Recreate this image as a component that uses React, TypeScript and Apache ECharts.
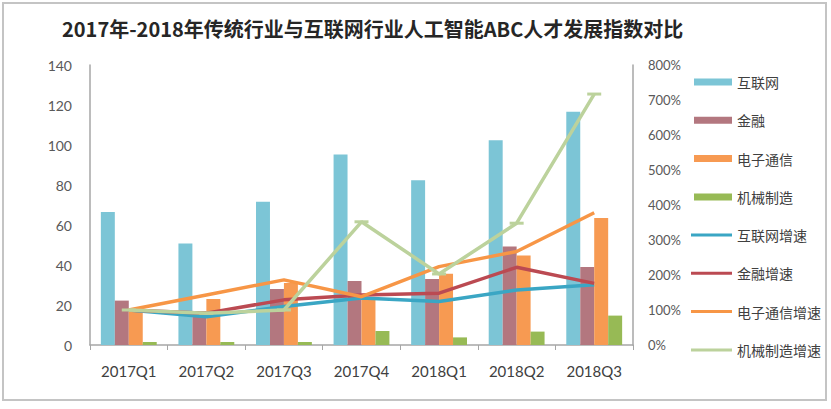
import React, { useEffect, useRef } from "react";
import * as echarts from "echarts";

const categories = ["2017Q1", "2017Q2", "2017Q3", "2017Q4", "2018Q1", "2018Q2", "2018Q3"];
const internet = [66.5, 50.7, 71.6, 95.2, 82.4, 102.4, 116.6];
const finance = [22.2, 17, 28, 32, 33, 49.3, 39];
const telecom = [18.5, 23, 31, 24, 35.6, 44.8, 63.5];
const machinery = [1.5, 1.5, 1.5, 7, 3.8, 6.7, 14.7];
const internetGrowth = [100, 81, 110, 134, 124, 157, 172];
const financeGrowth = [100, 91, 129, 143, 148, 222, 176];
const telecomGrowth = [100, 143, 186, 138, 224, 267, 378];
const machineryGrowth = [100, 91, 100, 352, 203, 348, 717];

const barNames = ["互联网", "金融", "电子通信", "机械制造"];
const lineNames = ["互联网增速", "金融增速", "电子通信增速", "机械制造增速"];
const barColors = ["#7cc5d6", "#b3777f", "#f79a52", "#97ba55"];
const lineColors = ["#3aa6c4", "#bb4a52", "#f79646", "#bcd29c"];

const title = "2017年-2018年传统行业与互联网行业人工智能ABC人才发展指数对比";

export default function App() {
  const ref = useRef<HTMLDivElement>(null);
  useEffect(() => {
    if (!ref.current) return;
    const chart = echarts.init(ref.current, undefined, { renderer: "svg" });
    const barData = [internet, finance, telecom, machinery];
    const lineData = [internetGrowth, financeGrowth, telecomGrowth, machineryGrowth];
    const axisColor = "#a6a6a6";
    const labelColor = "#595959";
    const legendText = {
      fontFamily: "'Noto Sans CJK SC', sans-serif",
      fontSize: 14,
      color: "#404040",
      lineHeight: 16,
    };
    chart.setOption({
      animation: false,
      backgroundColor: "#ffffff",
      textStyle: { fontFamily: "Lato, 'Noto Sans CJK SC', sans-serif" },
      title: {
        text: title,
        left: 57,
        top: 13,
        padding: 5,
        textStyle: {
          fontFamily: "'Noto Sans CJK SC', sans-serif",
          fontWeight: "bold",
          fontSize: 20,
          color: "#262626",
        },
      },
      graphic: [
        {
          type: "rect",
          shape: { x: 3, y: 3, width: 823, height: 397 },
          style: { fill: "none", stroke: "#c4c4c4", lineWidth: 2 },
          silent: true,
        },
      ],
      legend: [
        {
          data: barNames,
          orient: "vertical",
          left: 694,
          top: 74,
          padding: 0,
          itemWidth: 38,
          itemHeight: 7,
          itemGap: 22.3,
          icon: "rect",
          textStyle: legendText,
        },
        {
          data: lineNames,
          orient: "vertical",
          left: 691,
          top: 227,
          padding: 0,
          itemWidth: 41,
          itemHeight: 3,
          itemGap: 22.3,
          icon: "rect",
          textStyle: legendText,
        },
      ],
      grid: { left: 90, right: 198, top: 65, bottom: 64, containLabel: false },
      xAxis: {
        type: "category",
        data: categories,
        axisLine: { lineStyle: { color: axisColor, width: 1.5 } },
        axisTick: { show: true, length: 5, lineStyle: { color: axisColor } },
        axisLabel: { fontSize: 15, color: "#404040", margin: 18, fontFamily: "Lato, sans-serif" },
      },
      yAxis: [
        {
          type: "value",
          min: 0,
          max: 140,
          interval: 20,
          axisLine: { show: true, lineStyle: { color: axisColor, width: 1.5 } },
          axisTick: { show: false },
          splitLine: { show: false },
          axisLabel: { fontSize: 14, color: labelColor, margin: 18, fontFamily: "Lato, sans-serif" },
        },
        {
          type: "value",
          min: 0,
          max: 800,
          interval: 100,
          axisLine: { show: true, lineStyle: { color: axisColor, width: 1.5 } },
          axisTick: { show: false },
          splitLine: { show: false },
          axisLabel: {
            fontSize: 13,
            color: labelColor,
            margin: 15,
            formatter: "{value}%",
            fontFamily: "Lato, sans-serif",
          },
        },
      ],
      series: [
        ...barNames.map((name, i) => ({
          name,
          type: "bar",
          yAxisIndex: 0,
          data: barData[i],
          barGap: "0%",
          barCategoryGap: "28%",
          itemStyle: { color: barColors[i] },
        })),
        ...lineNames.map((name, i) => ({
          name,
          type: "line",
          yAxisIndex: 1,
          data: lineData[i],
          symbol: i === 3 ? "rect" : "none",
          symbolSize: [14, 3],
          showSymbol: i === 3,
          lineStyle: { color: lineColors[i], width: 3.5 },
          itemStyle: { color: lineColors[i] },
          z: 3 + i,
        })),
      ],
    });
    return () => chart.dispose();
  }, []);
  return (
    <div
      ref={ref}
      style={{ position: "fixed", left: 0, top: 0, width: 831, height: 409 }}
    />
  );
}
